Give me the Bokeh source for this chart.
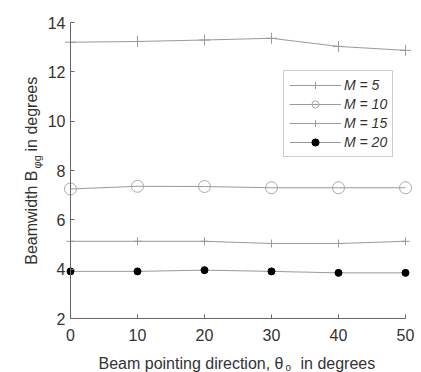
import math
from bokeh.plotting import figure
from bokeh.models import Label, FixedTicker, Range1d, Legend
from bokeh.embed import file_html
from bokeh.resources import INLINE

# ---- data ----
theta = [0, 10, 20, 30, 40, 50]
m5 = [13.20, 13.23, 13.29, 13.36, 13.03, 12.87]
m10 = [7.25, 7.36, 7.35, 7.30, 7.30, 7.30]
m15 = [5.13, 5.13, 5.13, 5.04, 5.04, 5.13]
m20 = [3.91, 3.91, 3.96, 3.91, 3.85, 3.85]
x_ticks = [0, 10, 20, 30, 40, 50]
y_ticks = [2, 4, 6, 8, 10, 12, 14]
labels = ["M = 5", "M = 10", "M = 15", "M = 20"]

FONT = "Liberation Sans"
TXT = "#333333"
LINE = "#9a9a9a"

W, H = 421, 372
# pixel geometry of the drawing area (axes at px 70 / 318)
X0PX, X1PX, Y0PX, Y1PX = 70, 405, 318, 22
xs = (X1PX - X0PX) / (x_ticks[-1] - x_ticks[0])
ys = (Y0PX - Y1PX) / (y_ticks[-1] - y_ticks[0])
xr = Range1d(x_ticks[0] - X0PX / xs, x_ticks[-1] + (W - X1PX) / xs)
yr = Range1d(y_ticks[0] - (H - Y0PX) / ys, y_ticks[-1] + Y1PX / ys)

p = figure(width=W, height=H, output_backend="svg", toolbar_location=None,
           x_range=xr, y_range=yr,
           min_border_left=0, min_border_right=0, min_border_top=0, min_border_bottom=0)
p.outline_line_color = None
p.xgrid.grid_line_color = None
p.ygrid.grid_line_color = None
p.background_fill_color = "white"
p.border_fill_color = "white"

for ax in (p.xaxis[0], p.yaxis[0]):
    ax.axis_line_color = "#666666"
    ax.major_tick_line_color = "#666666"
    ax.major_tick_in = 4
    ax.major_tick_out = 0
    ax.minor_tick_line_color = None
    ax.major_label_text_font = FONT
    ax.major_label_text_font_size = "16px"
    ax.major_label_text_color = TXT
p.xaxis[0].ticker = FixedTicker(ticks=x_ticks)
p.yaxis[0].ticker = FixedTicker(ticks=y_ticks)
p.xaxis[0].bounds = (x_ticks[0], x_ticks[-1])
p.yaxis[0].bounds = (y_ticks[0], y_ticks[-1])
p.xaxis[0].fixed_location = y_ticks[0]
p.yaxis[0].fixed_location = x_ticks[0]
p.xaxis[0].major_label_standoff = 10
p.yaxis[0].major_label_standoff = 5

l1 = p.line(theta, m5, line_color=LINE, line_width=1)
s1 = p.scatter(theta, m5, marker="cross", size=11, line_color=LINE, line_width=1)
l2 = p.line(theta, m10, line_color=LINE, line_width=1)
s2 = p.scatter(theta, m10, marker="circle", size=12, line_color="#aaaaaa", fill_color=None, line_width=1)
l3 = p.line(theta, m15, line_color=LINE, line_width=1)
s3 = p.scatter(theta, m15, marker="cross", size=8, line_color=LINE, line_width=1)
l4 = p.line(theta, m20, line_color=LINE, line_width=1)
s4 = p.scatter(theta, m20, marker="circle", size=7, line_color="black", fill_color="black")

legend = Legend(items=[(labels[0], [l1, s1]), (labels[1], [l2, s2]),
                       (labels[2], [l3, s3]), (labels[3], [l4, s4])],
                location=(283, 215), padding=5, spacing=1, margin=0,
                glyph_width=52, glyph_height=18, label_height=18, label_standoff=3,
                label_text_font=FONT, label_text_font_size="14px",
                label_text_font_style="italic", label_text_color=TXT,
                border_line_color="#999999", border_line_width=1,
                background_fill_color="white", background_fill_alpha=1)
p.add_layout(legend, "center")

def dx(px):
    return xr.start + px / xs

def dy(py):
    return yr.end - py / ys

kw = dict(text_baseline="alphabetic", text_font=FONT, text_color=TXT)
# x axis title with subscript
p.add_layout(Label(x=dx(283), y=dy(363), text="Beam pointing direction, θ", text_align="right",
                   text_font_size="16px", **kw))
p.add_layout(Label(x=dx(285), y=dy(367), text="o", text_align="left", text_font_size="10px", **kw))
p.add_layout(Label(x=dx(300), y=dy(363), text="in degrees", text_align="left",
                   text_font_size="16px", **kw))

# y axis title with subscript (rotated)
p.add_layout(Label(x=dx(31), y=dy(170), text="Beamwidth B", text_align="right", angle=math.pi / 2,
                   text_font_size="16px", **kw))
p.add_layout(Label(x=dx(36), y=dy(168), text="φg", text_align="left", angle=math.pi / 2,
                   text_font_size="11px", **kw))
p.add_layout(Label(x=dx(31), y=dy(151), text="in degrees", text_align="left", angle=math.pi / 2,
                   text_font_size="16px", **kw))

open("out.html", "w").write(file_html(p, INLINE))
